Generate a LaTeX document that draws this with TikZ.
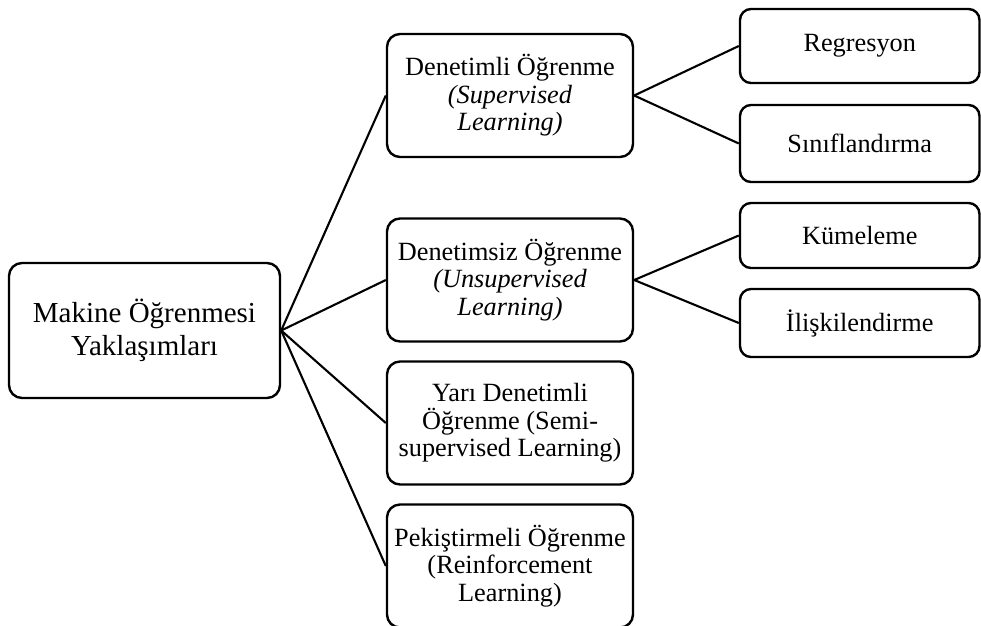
\documentclass[tikz,border=0pt]{standalone}
\usepackage{fontspec}
\setmainfont{Liberation Serif}
\begin{document}
\begin{tikzpicture}[x=1pt,y=-1pt,
  box/.style={draw=black, line width=2.4pt, rounded corners=13pt, fill=white,
    inner sep=0pt, align=center},
  rootbox/.style={box, minimum width=271pt, minimum height=135pt,
    font=\fontsize{29}{32.5}\selectfont},
  catbox/.style={box, minimum width=246pt, minimum height=123pt,
    font=\fontsize{26.3}{27.6}\selectfont},
  leafbox/.style={box, rounded corners=11pt, minimum width=239.5pt,
    font=\fontsize{26.3}{27.6}\selectfont},
  link/.style={draw=black, line width=2.1pt}]
\useasboundingbox (0,0) rectangle (981,625);

% root
\node[rootbox] (root) at (144.5,330.5) {Makine Öğrenmesi\\Yaklaşımları};

% learning approaches
\node[catbox] (sup)   at (510,95.5) {Denetimli Öğrenme\\\textit{(Supervised}\\\textit{Learning)}};
\node[catbox] (unsup) at (510,280)  {Denetimsiz Öğrenme\\\textit{(Unsupervised}\\\textit{Learning)}};
\node[catbox] (semi)  at (510,423)  {Yarı Denetimli\\Öğrenme (Semi-\\supervised Learning)};
\node[catbox] (rl)    at (510,566)  {Pekiştirmeli Öğrenme\\(Reinforcement\\Learning)};

% task types
\node[leafbox, minimum height=74pt] (reg)   at (859.75,46)    {Regresyon};
\node[leafbox, minimum height=77pt] (cls)   at (859.75,143.5) {Sınıflandırma};
\node[leafbox, minimum height=65pt] (clu)   at (859.75,235.5) {Kümeleme};
\node[leafbox, minimum height=68pt] (assoc) at (859.75,323)   {İlişkilendirme};

% connectors
\draw[link] (root.east) -- (sup.west);
\draw[link] (root.east) -- (unsup.west);
\draw[link] (root.east) -- (semi.west);
\draw[link] (root.east) -- (rl.west);
\draw[link] (sup.east) -- (reg.west);
\draw[link] (sup.east) -- (cls.west);
\draw[link] (unsup.east) -- (clu.west);
\draw[link] (unsup.east) -- (assoc.west);
\end{tikzpicture}
\end{document}
